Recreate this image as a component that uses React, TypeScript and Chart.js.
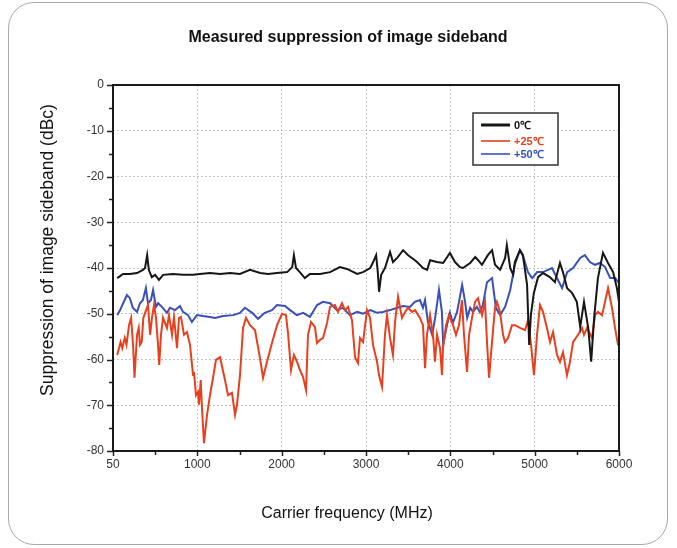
import React, { useEffect, useRef } from 'react';
import { Chart, registerables } from 'chart.js';

Chart.register(...registerables);

const TITLE = 'Measured suppression of image sideband';
const X_TITLE = 'Carrier frequency (MHz)';
const Y_TITLE = 'Suppression of image sideband (dBc)';
const SERIES_LABELS = ['0℃', '+25℃', '+50℃'];
const SERIES_COLORS = ['#161616', '#e8401e', '#3a50b6'];
const X_MIN = 0;
const X_MAX = 6000;
const X_ORIGIN_LABEL = '50';
const Y_MIN = -80;
const Y_MAX = 0;

// [frequency MHz, suppression dBc]
const black0C: [number, number][] = [
  [50, -42.2], [120, -41.3], [200, -41.3], [285, -41.1], [355, -40.4], [380, -40.0], [405, -37.2], [425, -40.4], [460, -42.0], [500, -41.5],
  [545, -42.6], [595, -41.5], [710, -41.3], [830, -41.5], [950, -41.5], [1030, -41.3], [1150, -41.1], [1270, -41.3], [1390, -41.1], [1505, -41.3],
  [1625, -40.4], [1745, -41.1], [1840, -41.3], [1945, -41.1], [2065, -40.9], [2125, -39.8], [2145, -37.2], [2170, -40.0], [2215, -40.9], [2275, -42.2],
  [2335, -41.3], [2455, -41.3], [2575, -40.9], [2690, -39.8], [2775, -40.2], [2895, -41.3], [2965, -40.9], [3050, -40.0], [3085, -38.7], [3120, -37.2],
  [3140, -40.9], [3155, -45.2], [3180, -41.5], [3225, -40.0], [3285, -36.5], [3320, -38.7], [3370, -37.8], [3440, -36.1], [3500, -37.2], [3580, -38.3],
  [3605, -38.7], [3675, -40.0], [3725, -40.4], [3760, -38.3], [3840, -38.7], [3915, -38.9], [3995, -36.7], [4055, -38.7], [4115, -39.8], [4150, -40.0],
  [4235, -38.9], [4295, -37.6], [4330, -38.3], [4375, -39.3], [4445, -37.2], [4495, -36.1], [4530, -39.3], [4590, -40.4], [4650, -37.8], [4670, -35.0],
  [4710, -40.0], [4745, -41.5], [4765, -38.7], [4825, -36.1], [4860, -37.2], [4910, -43.7], [4935, -56.8], [4955, -50.3], [4990, -45.5], [5040, -42.0],
  [5100, -41.1], [5180, -42.0], [5240, -43.1], [5300, -38.9], [5335, -40.9], [5385, -44.4], [5445, -45.5], [5500, -47.4], [5540, -52.9], [5585, -47.4],
  [5635, -53.1], [5670, -60.5], [5705, -50.9], [5750, -42.2], [5810, -36.7], [5870, -38.9], [5930, -40.9], [5975, -44.4], [6000, -47.4],
];

const red25C: [number, number][] = [
  [50, -59.0], [90, -56.2], [110, -57.5], [140, -55.3], [160, -56.8], [190, -52.5], [215, -50.9], [240, -57.5], [255, -64.0], [285, -54.6],
  [305, -53.1], [320, -56.8], [340, -56.2], [360, -50.9], [385, -49.6], [415, -48.1], [440, -54.6], [462, -50.9], [486, -48.1], [510, -50.9],
  [534, -56.8], [548, -61.2], [569, -54.6], [593, -50.9], [640, -53.1], [664, -50.3], [700, -54.6], [723, -50.7], [759, -57.5], [783, -50.9],
  [806, -50.7], [842, -54.6], [877, -54.0], [913, -56.8], [949, -63.4], [960, -62.7], [984, -67.8], [1008, -67.1], [1020, -69.9], [1040, -64.5],
  [1055, -70.6], [1079, -78.3], [1115, -72.1], [1150, -67.8], [1186, -64.0], [1221, -60.1], [1269, -59.5], [1328, -64.5], [1364, -67.8], [1411, -67.3],
  [1447, -72.1], [1470, -69.9], [1506, -63.4], [1542, -53.1], [1577, -50.9], [1625, -52.5], [1684, -53.6], [1743, -59.7], [1779, -64.0], [1826, -60.5],
  [1885, -56.4], [1945, -52.5], [2004, -50.0], [2051, -50.3], [2075, -54.2], [2111, -62.3], [2146, -59.0], [2182, -60.5], [2217, -62.3], [2253, -63.8],
  [2289, -66.7], [2312, -54.6], [2348, -51.8], [2395, -52.9], [2419, -56.4], [2455, -55.7], [2490, -55.3], [2538, -52.0], [2573, -48.5], [2632, -48.1],
  [2668, -49.6], [2715, -47.7], [2751, -49.2], [2787, -48.5], [2834, -51.4], [2870, -59.5], [2905, -60.8], [2929, -55.3], [2965, -56.2], [3012, -49.2],
  [3048, -50.9], [3083, -56.8], [3131, -60.5], [3154, -63.4], [3190, -66.0], [3225, -54.6], [3249, -50.3], [3285, -55.3], [3320, -59.0], [3344, -51.8],
  [3380, -46.3], [3427, -50.9], [3463, -49.6], [3498, -48.7], [3546, -49.6], [3581, -49.2], [3640, -50.9], [3676, -52.5], [3700, -61.9], [3723, -54.6],
  [3759, -50.3], [3795, -54.6], [3818, -60.5], [3842, -54.6], [3878, -57.5], [3901, -63.4], [3913, -57.5], [3949, -52.5], [3984, -50.3], [4032, -52.5],
  [4067, -54.6], [4103, -52.5], [4138, -47.0], [4162, -54.6], [4198, -62.7], [4222, -54.6], [4257, -50.9], [4293, -47.4], [4328, -46.6], [4376, -50.3],
  [4411, -47.4], [4435, -56.2], [4459, -64.0], [4494, -56.2], [4530, -48.7], [4553, -47.4], [4589, -49.6], [4625, -54.6], [4648, -56.2], [4684, -55.3],
  [4731, -52.5], [4767, -52.5], [4826, -53.1], [4886, -53.6], [4921, -51.4], [4957, -56.8], [4992, -63.4], [5028, -54.6], [5063, -48.1], [5099, -49.6],
  [5146, -53.1], [5182, -56.2], [5218, -54.0], [5265, -59.0], [5300, -60.5], [5336, -58.4], [5383, -63.4], [5419, -60.5], [5455, -56.2], [5514, -54.6],
  [5562, -53.1], [5585, -54.6], [5621, -53.1], [5680, -55.3], [5716, -50.3], [5751, -49.6], [5799, -50.3], [5834, -47.4], [5870, -44.4], [5917, -48.7],
  [5953, -53.1], [5988, -56.8], [6000, -57.0],
];

const blue50C: [number, number][] = [
  [50, -50.3], [85, -49.2], [120, -47.7], [165, -45.9], [200, -46.6], [235, -48.7], [285, -49.6], [320, -47.7], [355, -47.0], [390, -44.4],
  [415, -47.7], [450, -47.0], [475, -44.8], [510, -48.5], [535, -47.7], [580, -48.5], [640, -49.8], [675, -48.7], [735, -49.2], [795, -48.3],
  [830, -49.6], [890, -50.3], [935, -51.8], [995, -50.3], [1065, -50.5], [1150, -50.7], [1210, -50.9], [1305, -50.5], [1425, -50.3], [1505, -49.8],
  [1565, -48.7], [1650, -49.8], [1720, -51.1], [1800, -49.8], [1885, -49.2], [1945, -48.1], [2040, -48.3], [2100, -49.2], [2180, -50.3], [2255, -49.8],
  [2335, -50.7], [2420, -48.1], [2490, -47.4], [2575, -47.7], [2655, -49.2], [2725, -48.7], [2810, -50.3], [2895, -49.6], [2965, -50.0], [3050, -49.2],
  [3130, -49.8], [3200, -49.6], [3285, -49.2], [3370, -48.7], [3440, -48.3], [3520, -48.5], [3580, -47.4], [3640, -47.0], [3675, -48.7], [3700, -47.0],
  [3735, -51.8], [3785, -54.6], [3820, -50.9], [3865, -44.8], [3900, -49.6], [3915, -56.8], [3960, -52.5], [3995, -49.8], [4030, -52.0], [4080, -49.6],
  [4140, -43.7], [4175, -47.4], [4200, -50.9], [4235, -48.7], [4270, -49.6], [4315, -48.5], [4350, -49.6], [4385, -48.1], [4435, -43.1], [4495, -42.2],
  [4540, -48.7], [4590, -50.3], [4650, -48.5], [4710, -44.8], [4765, -39.3], [4825, -36.1], [4860, -37.2], [4920, -40.9], [4970, -42.2], [5030, -40.9],
  [5100, -40.9], [5205, -40.0], [5265, -42.2], [5325, -44.4], [5385, -40.9], [5455, -40.0], [5540, -37.8], [5595, -37.2], [5655, -38.7], [5715, -39.3],
  [5775, -38.9], [5835, -39.8], [5895, -42.2], [5955, -42.2], [6000, -43.3],
];

const FONT = '"Liberation Sans", Arial, Helvetica, sans-serif';

const toPoints = (arr: [number, number][]) => arr.map(([x, y]) => ({ x, y }));

const decorPlugin = {
  id: 'decor',
  afterDraw(chart: any) {
    const { ctx, chartArea: a, scales } = chart;
    const xs = scales.x;
    const ys = scales.y;
    ctx.save();
    // tick marks
    ctx.strokeStyle = '#222';
    ctx.lineWidth = 1.5;
    xs.ticks.forEach((t: any) => {
      const px = Math.round(xs.getPixelForValue(t.value)) + 0.5;
      const len = t.value % 1000 === 0 ? 5 : 4;
      ctx.beginPath();
      ctx.moveTo(px, a.bottom);
      ctx.lineTo(px, a.bottom + len);
      ctx.stroke();
    });
    ys.ticks.forEach((t: any) => {
      const py = Math.round(ys.getPixelForValue(t.value)) + 0.5;
      const len = t.value % 10 === 0 ? 6 : 4;
      ctx.beginPath();
      ctx.moveTo(a.left, py);
      ctx.lineTo(a.left - len, py);
      ctx.stroke();
    });
    // frame
    ctx.lineWidth = 2;
    ctx.strokeStyle = '#1a1a1a';
    ctx.strokeRect(a.left, a.top, a.right - a.left, a.bottom - a.top);

    // titles
    ctx.fillStyle = '#111';
    ctx.textAlign = 'center';
    ctx.textBaseline = 'middle';
    ctx.font = `bold 16px ${FONT}`;
    ctx.fillText(TITLE, 348, 38);
    ctx.font = `16px ${FONT}`;
    ctx.fillText(X_TITLE, 347, 514);
    ctx.save();
    ctx.translate(48, 250);
    ctx.rotate(-Math.PI / 2);
    ctx.font = `17.5px ${FONT}`;
    ctx.fillText(Y_TITLE, 0, 0);
    ctx.restore();

    // legend
    const lx = 473, ly = 113, lw = 85, lh = 52;
    ctx.fillStyle = '#fff';
    ctx.fillRect(lx, ly, lw, lh);
    ctx.lineWidth = 1.5;
    ctx.strokeStyle = '#333';
    ctx.strokeRect(lx, ly, lw, lh);
    const rows = [125, 141, 154];
    chart.data.datasets.forEach((ds: any, i: number) => {
      ctx.strokeStyle = ds.borderColor;
      ctx.lineWidth = i === 0 ? 3 : 1.6;
      ctx.beginPath();
      ctx.moveTo(481, rows[i]);
      ctx.lineTo(510, rows[i]);
      ctx.stroke();
      ctx.fillStyle = ds.borderColor;
      ctx.textAlign = 'left';
      ctx.font = `bold 11px ${FONT}`;
      ctx.fillText(ds.label, 514, rows[i] + 0.5);
    });
    ctx.restore();
  },
};

export default function App() {
  const ref = useRef<HTMLCanvasElement | null>(null);

  useEffect(() => {
    if (!ref.current) return;
    const chart = new Chart(ref.current, {
      type: 'line',
      data: {
        datasets: [
          { label: SERIES_LABELS[0], data: toPoints(black0C), borderColor: SERIES_COLORS[0], borderWidth: 2, pointRadius: 0, tension: 0 },
          { label: SERIES_LABELS[1], data: toPoints(red25C), borderColor: SERIES_COLORS[1], borderWidth: 2, pointRadius: 0, tension: 0 },
          { label: SERIES_LABELS[2], data: toPoints(blue50C), borderColor: SERIES_COLORS[2], borderWidth: 2, pointRadius: 0, tension: 0 },
        ],
      },
      options: {
        animation: false,
        responsive: false,
        devicePixelRatio: 1,
        layout: { padding: { top: 85, right: 58, bottom: 20, left: 0 } },
        plugins: {
          legend: { display: false },
          title: { display: false },
          tooltip: { enabled: false },
        },
        scales: {
          x: {
            type: 'linear',
            min: X_MIN,
            max: X_MAX,
            afterFit: (s: any) => { s.height = 77; },
            border: { display: false, dash: [2, 2] },
            grid: {
              drawTicks: false,
              lineWidth: 1,
              color: (c: any) => {
                const v = c.tick ? c.tick.value : NaN;
                return v % 1000 === 0 && v > X_MIN && v < X_MAX ? '#c4c4c4' : 'rgba(0,0,0,0)';
              },
            },
            ticks: {
              stepSize: 500,
              autoSkip: false,
              maxRotation: 0,
              padding: 6,
              color: '#333',
              font: { family: FONT, size: 12 },
              callback: (v: any) => (v === X_MIN ? X_ORIGIN_LABEL : v % 1000 === 0 ? String(v) : ''),
            },
          },
          y: {
            type: 'linear',
            min: Y_MIN,
            max: Y_MAX,
            afterFit: (s: any) => { s.width = 113; },
            border: { display: false, dash: [2, 2] },
            grid: {
              drawTicks: false,
              lineWidth: 1,
              color: (c: any) => {
                const v = c.tick ? c.tick.value : NaN;
                return v % 10 === 0 && v > Y_MIN && v < Y_MAX ? '#c4c4c4' : 'rgba(0,0,0,0)';
              },
            },
            ticks: {
              stepSize: 5,
              autoSkip: false,
              padding: 9,
              color: '#333',
              font: { family: FONT, size: 12 },
              callback: (v: any) => (v % 10 === 0 ? String(v) : ''),
            },
          },
        },
      },
      plugins: [decorPlugin],
    } as any);
    return () => chart.destroy();
  }, []);

  return (
    <div style={{ position: 'fixed', left: 0, top: 0, width: 677, height: 548, background: '#fff' }}>
      <div
        style={{
          position: 'absolute',
          left: 8,
          top: 2,
          width: 660,
          height: 543,
          boxSizing: 'border-box',
          border: '1.5px solid #a9a9a9',
          borderRadius: 26,
        }}
      />
      <canvas ref={ref} width={677} height={548} style={{ position: 'absolute', left: 0, top: 0, display: 'block' }} />
    </div>
  );
}
